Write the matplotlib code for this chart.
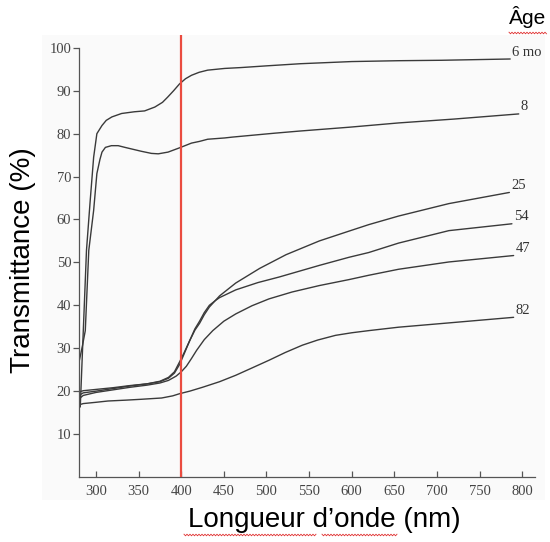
import numpy as np
import matplotlib
matplotlib.use("Agg")
import matplotlib.pyplot as plt
from matplotlib.patches import Rectangle
from matplotlib.lines import Line2D

# spectral transmittance of the human lens by age
wl_6mo = [281.5, 288.8, 293.2, 297.2, 301, 307, 312, 318.6, 330, 345, 357, 369, 378, 384, 391,
          398, 405, 412, 421, 431, 451, 470, 500, 540, 600, 655, 705, 786]
t_6mo = [16.3, 52.8, 64.5, 74.5, 80, 81.9, 83.1, 83.9, 84.7, 85.1, 85.3, 86.2, 87.3, 88.5, 90.0,
         91.6, 92.8, 93.6, 94.3, 94.8, 95.2, 95.4, 95.8, 96.3, 96.8, 97.0, 97.1, 97.4]

wl_8 = [280.4, 284, 287.4, 291.5, 297.2, 301, 304.6, 307, 311, 318, 326, 334, 353, 365, 373, 384.5,
        398, 412, 421.5, 431, 451, 460, 509, 538.5, 597, 655, 720, 796]
t_8 = [27.1, 30.5, 34.1, 52.8, 62.1, 70.7, 74.0, 75.7, 76.8, 77.2, 77.2, 76.8, 75.9, 75.4, 75.3, 75.7,
       76.7, 77.8, 78.2, 78.7, 79.0, 79.2, 80.1, 80.6, 81.5, 82.5, 83.4, 84.6]

wl_25 = [280, 285, 300, 320, 340, 360, 375, 385, 392, 398, 403, 410, 416, 421.5, 427, 433, 445,
         464, 492, 523, 562, 597, 620, 655, 714, 785]
t_25 = [19.0, 19.6, 20.0, 20.6, 21.2, 21.7, 22.3, 23.2, 24.5, 26.8, 28.8, 31.8, 34.2, 35.8, 37.8,
        39.6, 42.2, 45.2, 48.6, 51.8, 55.0, 57.3, 58.8, 60.8, 63.7, 66.3]

wl_54 = [280, 285, 300, 320, 340, 360, 375, 385, 392, 398, 403, 410, 416, 421.5, 427, 433, 440, 445,
         464, 490, 515, 562, 597, 620, 655, 714, 788]
t_54 = [19.8, 20.1, 20.4, 20.8, 21.3, 21.7, 22.2, 23.0, 24.2, 26.2, 28.5, 31.8, 34.5, 36.3, 38.3,
        40.0, 41.1, 41.8, 43.6, 45.3, 46.6, 49.3, 51.2, 52.3, 54.5, 57.4, 59.0]

wl_47 = [280, 285, 300, 320, 340, 360, 375, 385, 394, 400, 406, 412, 418, 427, 437, 450, 464, 483,
         503, 530, 562, 597, 620, 655, 714, 790]
t_47 = [18.2, 19.0, 19.7, 20.3, 20.9, 21.4, 21.9, 22.5, 23.5, 24.5, 25.8, 27.6, 29.5, 32.0, 34.1,
        36.3, 38.0, 39.9, 41.5, 43.1, 44.6, 46.0, 47.0, 48.4, 50.1, 51.6]

wl_82 = [280, 285, 300, 314, 335, 353, 377, 390, 398, 410, 425, 445, 464, 483, 503, 522, 542, 560,
         581, 600, 620, 655, 714, 790]
t_82 = [16.8, 17.1, 17.4, 17.7, 17.9, 18.1, 18.4, 18.9, 19.4, 20.0, 20.9, 22.2, 23.7, 25.4, 27.2,
        29.0, 30.7, 31.9, 33.0, 33.6, 34.1, 34.9, 35.9, 37.2]

curve_labels = ["6 mo", "8", "25", "54", "47", "82"]
curves = [(wl_6mo, t_6mo), (wl_8, t_8), (wl_25, t_25), (wl_54, t_54), (wl_47, t_47), (wl_82, t_82)]

x_ticks = list(range(300, 801, 50))
y_ticks = list(range(10, 101, 10))
cutoff = 400

serif = "Liberation Serif"
sans = "Liberation Sans"
ink = "#3a3a3a"

fig = plt.figure(figsize=(5.5, 5.42), dpi=100)

# faint grey of the scanned page, kept behind the axes
fig.patches.append(Rectangle((0.076, 0.077), 0.915, 0.858, transform=fig.transFigure,
                             facecolor="#fafafa", edgecolor="none", zorder=-10))

ax = fig.add_axes([0.1436, 0.12, 0.829, 0.8155])
ax.patch.set_alpha(0)

for (wl, t), lab in zip(curves, curve_labels):
    ax.plot(wl, t, color=ink, lw=1.0, solid_capstyle="round")
    ax.annotate(lab, (wl[-1], t[-1]), xytext=(1.5, 5), textcoords="offset points",
                ha="left", va="center", fontsize=10.5, family=serif, color="#333333")

ax.axvline(cutoff, color="#ea4b3f", lw=1.6, zorder=3)

ax.set_xlim(280, 815)
ax.set_ylim(0, 103)
ax.set_xticks(x_ticks)
ax.set_yticks(y_ticks)

for side in ["top", "right"]:
    ax.spines[side].set_visible(False)
ax.spines["left"].set_bounds(0, 100)
for side in ["left", "bottom"]:
    ax.spines[side].set_color("#555555")
    ax.spines[side].set_linewidth(0.9)

ax.tick_params(axis="x", direction="in", length=4, width=0.9, color="#555555", pad=6)
ax.tick_params(axis="y", direction="out", length=4, width=0.9, color="#555555", pad=1.5)
for lbl in ax.get_xticklabels() + ax.get_yticklabels():
    lbl.set_family(serif)
    lbl.set_fontsize(10.5)
    lbl.set_color("#444444")

fig.text(0.042, 0.52, "Transmittance (%)", rotation=90, ha="center", va="center",
         fontsize=20, family=sans, color="black")
fig.text(0.589, 0.04, "Longueur d\u2019onde (nm)", ha="center", va="center",
         fontsize=20, family=sans, color="black")
fig.text(0.96, 0.955, "\u00c2ge", ha="center", va="baseline",
         fontsize=15, family=sans, color="black")


# red spell-check squiggles under the French words (pixel coords)
def squiggle(x0, x1, y):
    xs = np.arange(x0, x1 + 0.1, 1.5)
    ys = y + np.where(np.arange(len(xs)) % 2 == 0, -0.8, 0.8)
    fig.add_artist(Line2D(xs / 550, (542 - ys) / 542, transform=fig.transFigure,
                          color="#e03030", lw=0.6))


squiggle(509, 547, 33)
squiggle(184, 316, 535)
squiggle(322, 398, 535)

fig.savefig("out.png", dpi=100)
